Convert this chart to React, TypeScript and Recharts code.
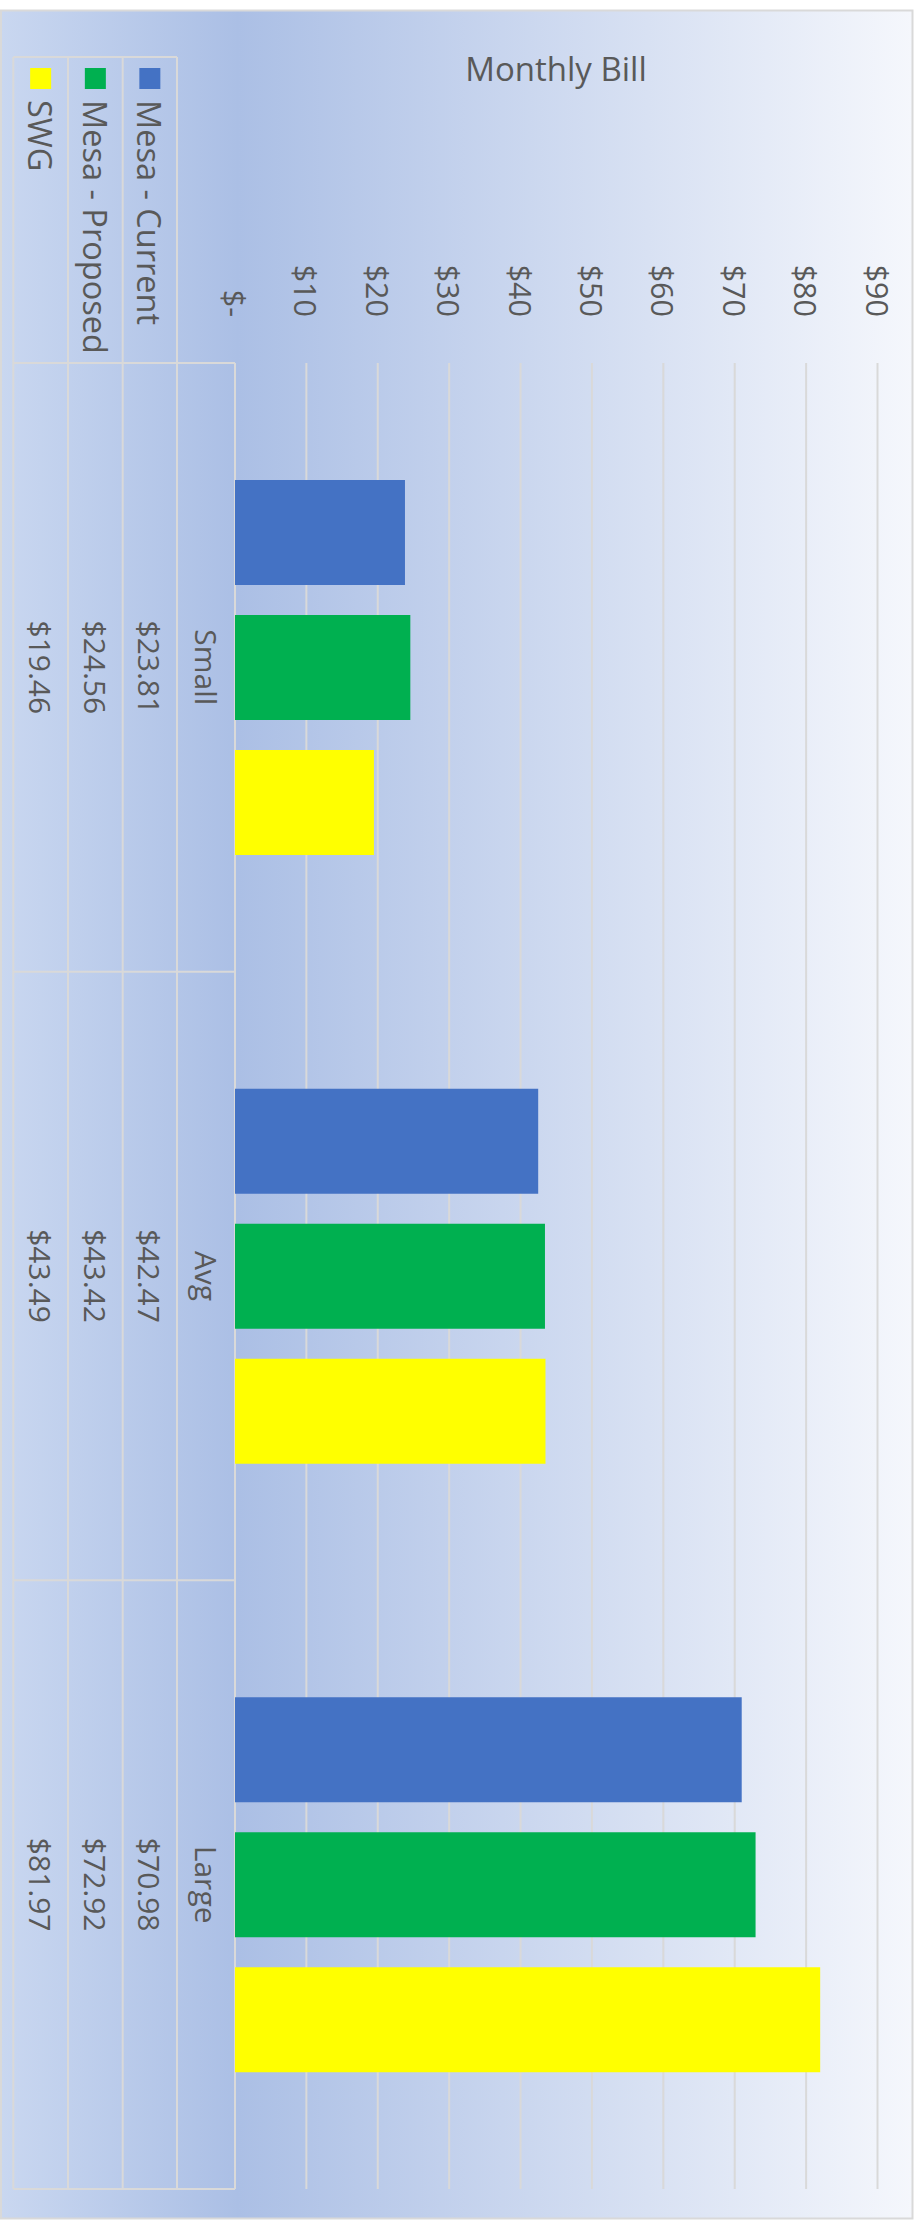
import React from "react";
import { Bar, BarChart, CartesianGrid, XAxis, YAxis } from "recharts";

const categories = ["Small", "Avg", "Large"];
const mesaCurrent = [23.81, 42.47, 70.98];
const mesaProposed = [24.56, 43.42, 72.92];
const swg = [19.46, 43.49, 81.97];
const seriesNames = ["Mesa - Current", "Mesa - Proposed", "SWG"];
const seriesColors = ["#4472C4", "#00B050", "#FFFF00"];
const valueTicks = [0, 10, 20, 30, 40, 50, 60, 70, 80, 90];

const W = 919;
const H = 2229;
const PLOT_LEFT = 235;
const PLOT_RIGHT = 877.5;
const PLOT_TOP = 363;
const PLOT_BOTTOM = 2189;
const HEADER_TOP = 57;
const TEXT = "#595959";
const LINE = "#d9d9d9";
const FONT = "'Open Sans', sans-serif";

// table columns, nearest the plot first (category, current, proposed, swg)
const catCol = { x0: 177, x1: PLOT_LEFT };
const seriesCols = [
  { x0: 122.7, x1: 177 },
  { x0: 68, x1: 122.7 },
  { x0: 13.3, x1: 68 },
];

const data = categories.map((name, i) => ({
  name,
  current: mesaCurrent[i],
  proposed: mesaProposed[i],
  swg: swg[i],
}));
const seriesValues = [mesaCurrent, mesaProposed, swg];

const money = (v: number) => (v === 0 ? "$-" : `$${v.toFixed(2)}`);

function ValueTick({ x, payload }: any) {
  const y = 317;
  const label = payload.value === 0 ? "$-" : `$${payload.value}`;
  return (
    <text
      x={x}
      y={y}
      transform={`rotate(90, ${x}, ${y})`}
      textAnchor="end"
      dominantBaseline="central"
      fill={TEXT}
      fontSize={30.5}
      fontFamily={FONT}
    >
      {label}
    </text>
  );
}

function TableRowTick({ y, payload }: any) {
  const idx = categories.indexOf(payload.value);
  const cx = (catCol.x0 + catCol.x1) / 2;
  return (
    <g>
      <text
        x={cx}
        y={y}
        transform={`rotate(90, ${cx}, ${y})`}
        textAnchor="middle"
        dominantBaseline="central"
        fill={TEXT}
        fontSize={30}
        fontFamily={FONT}
      >
        {payload.value}
      </text>
      {seriesCols.map((c, s) => {
        const vx = (c.x0 + c.x1) / 2;
        return (
          <text
            key={s}
            x={vx}
            y={y}
            transform={`rotate(90, ${vx}, ${y})`}
            textAnchor="middle"
            dominantBaseline="central"
            fill={TEXT}
            fontSize={30}
            fontFamily={FONT}
          >
            {money(seriesValues[s][idx])}
          </text>
        );
      })}
    </g>
  );
}

function Backdrop() {
  const band = (PLOT_BOTTOM - PLOT_TOP) / categories.length;
  const rows = categories.map((_, i) => PLOT_TOP + i * band).concat(PLOT_BOTTOM);
  return (
    <svg width={W} height={H} style={{ position: "absolute", left: 0, top: 0 }}>
      <defs>
        <linearGradient id="bg" x1="0" y1="0" x2="1" y2="0">
          <stop offset="0" stopColor="#c9d7f0" />
          <stop offset="0.26" stopColor="#abbfe5" />
          <stop offset="1" stopColor="#f5f7fc" />
        </linearGradient>
      </defs>
      <rect x={1} y={10.5} width={911.5} height={2208} fill="url(#bg)" stroke={LINE} strokeWidth={2} />
      <text x={556} y={81} textAnchor="middle" fill={TEXT} fontSize={33} fontFamily={FONT}>
        Monthly Bill
      </text>
      {/* data table grid */}
      <g stroke={LINE} strokeWidth={2}>
        <line x1={13.3} x2={177} y1={HEADER_TOP} y2={HEADER_TOP} />
        {[13.3, 68, 122.7, 177].map((x) => (
          <line key={x} x1={x} x2={x} y1={HEADER_TOP} y2={PLOT_BOTTOM} />
        ))}
        {rows.map((y) => (
          <line key={y} x1={13.3} x2={PLOT_LEFT} y1={y} y2={y} />
        ))}
      </g>
      {/* legend keys in table header */}
      {seriesCols.map((c, s) => {
        const cx = (c.x0 + c.x1) / 2;
        return (
          <g key={s}>
            <rect x={cx - 10.5} y={68} width={21} height={21} fill={seriesColors[s]} />
            <text
              x={cx}
              y={100}
              transform={`rotate(90, ${cx}, 100)`}
              textAnchor="start"
              dominantBaseline="central"
              fill={TEXT}
              fontSize={32.5}
              fontFamily={FONT}
            >
              {seriesNames[s]}
            </text>
          </g>
        );
      })}
    </svg>
  );
}

export default function App() {
  return (
    <div style={{ position: "absolute", left: 0, top: 0, width: W, height: H }}>
      <Backdrop />
      <div style={{ position: "absolute", left: 0, top: 0 }}>
        <BarChart
          width={W}
          height={H}
          data={data}
          layout="vertical"
          barSize={105}
          barGap={30}
          margin={{ top: PLOT_TOP - 50, left: 177, right: W - PLOT_RIGHT, bottom: H - PLOT_BOTTOM }}
        >
          <CartesianGrid horizontal={false} stroke={LINE} strokeWidth={2} />
          <XAxis
            type="number"
            orientation="top"
            domain={[0, 90]}
            ticks={valueTicks}
            height={50}
            axisLine={false}
            tickLine={false}
            tick={<ValueTick />}
            interval={0}
          />
          <YAxis
            type="category"
            dataKey="name"
            width={58}
            axisLine={false}
            tickLine={false}
            tick={<TableRowTick />}
            interval={0}
          />
          <Bar dataKey="current" name={seriesNames[0]} fill={seriesColors[0]} isAnimationActive={false} />
          <Bar dataKey="proposed" name={seriesNames[1]} fill={seriesColors[1]} isAnimationActive={false} />
          <Bar dataKey="swg" name={seriesNames[2]} fill={seriesColors[2]} isAnimationActive={false} />
        </BarChart>
      </div>
    </div>
  );
}
